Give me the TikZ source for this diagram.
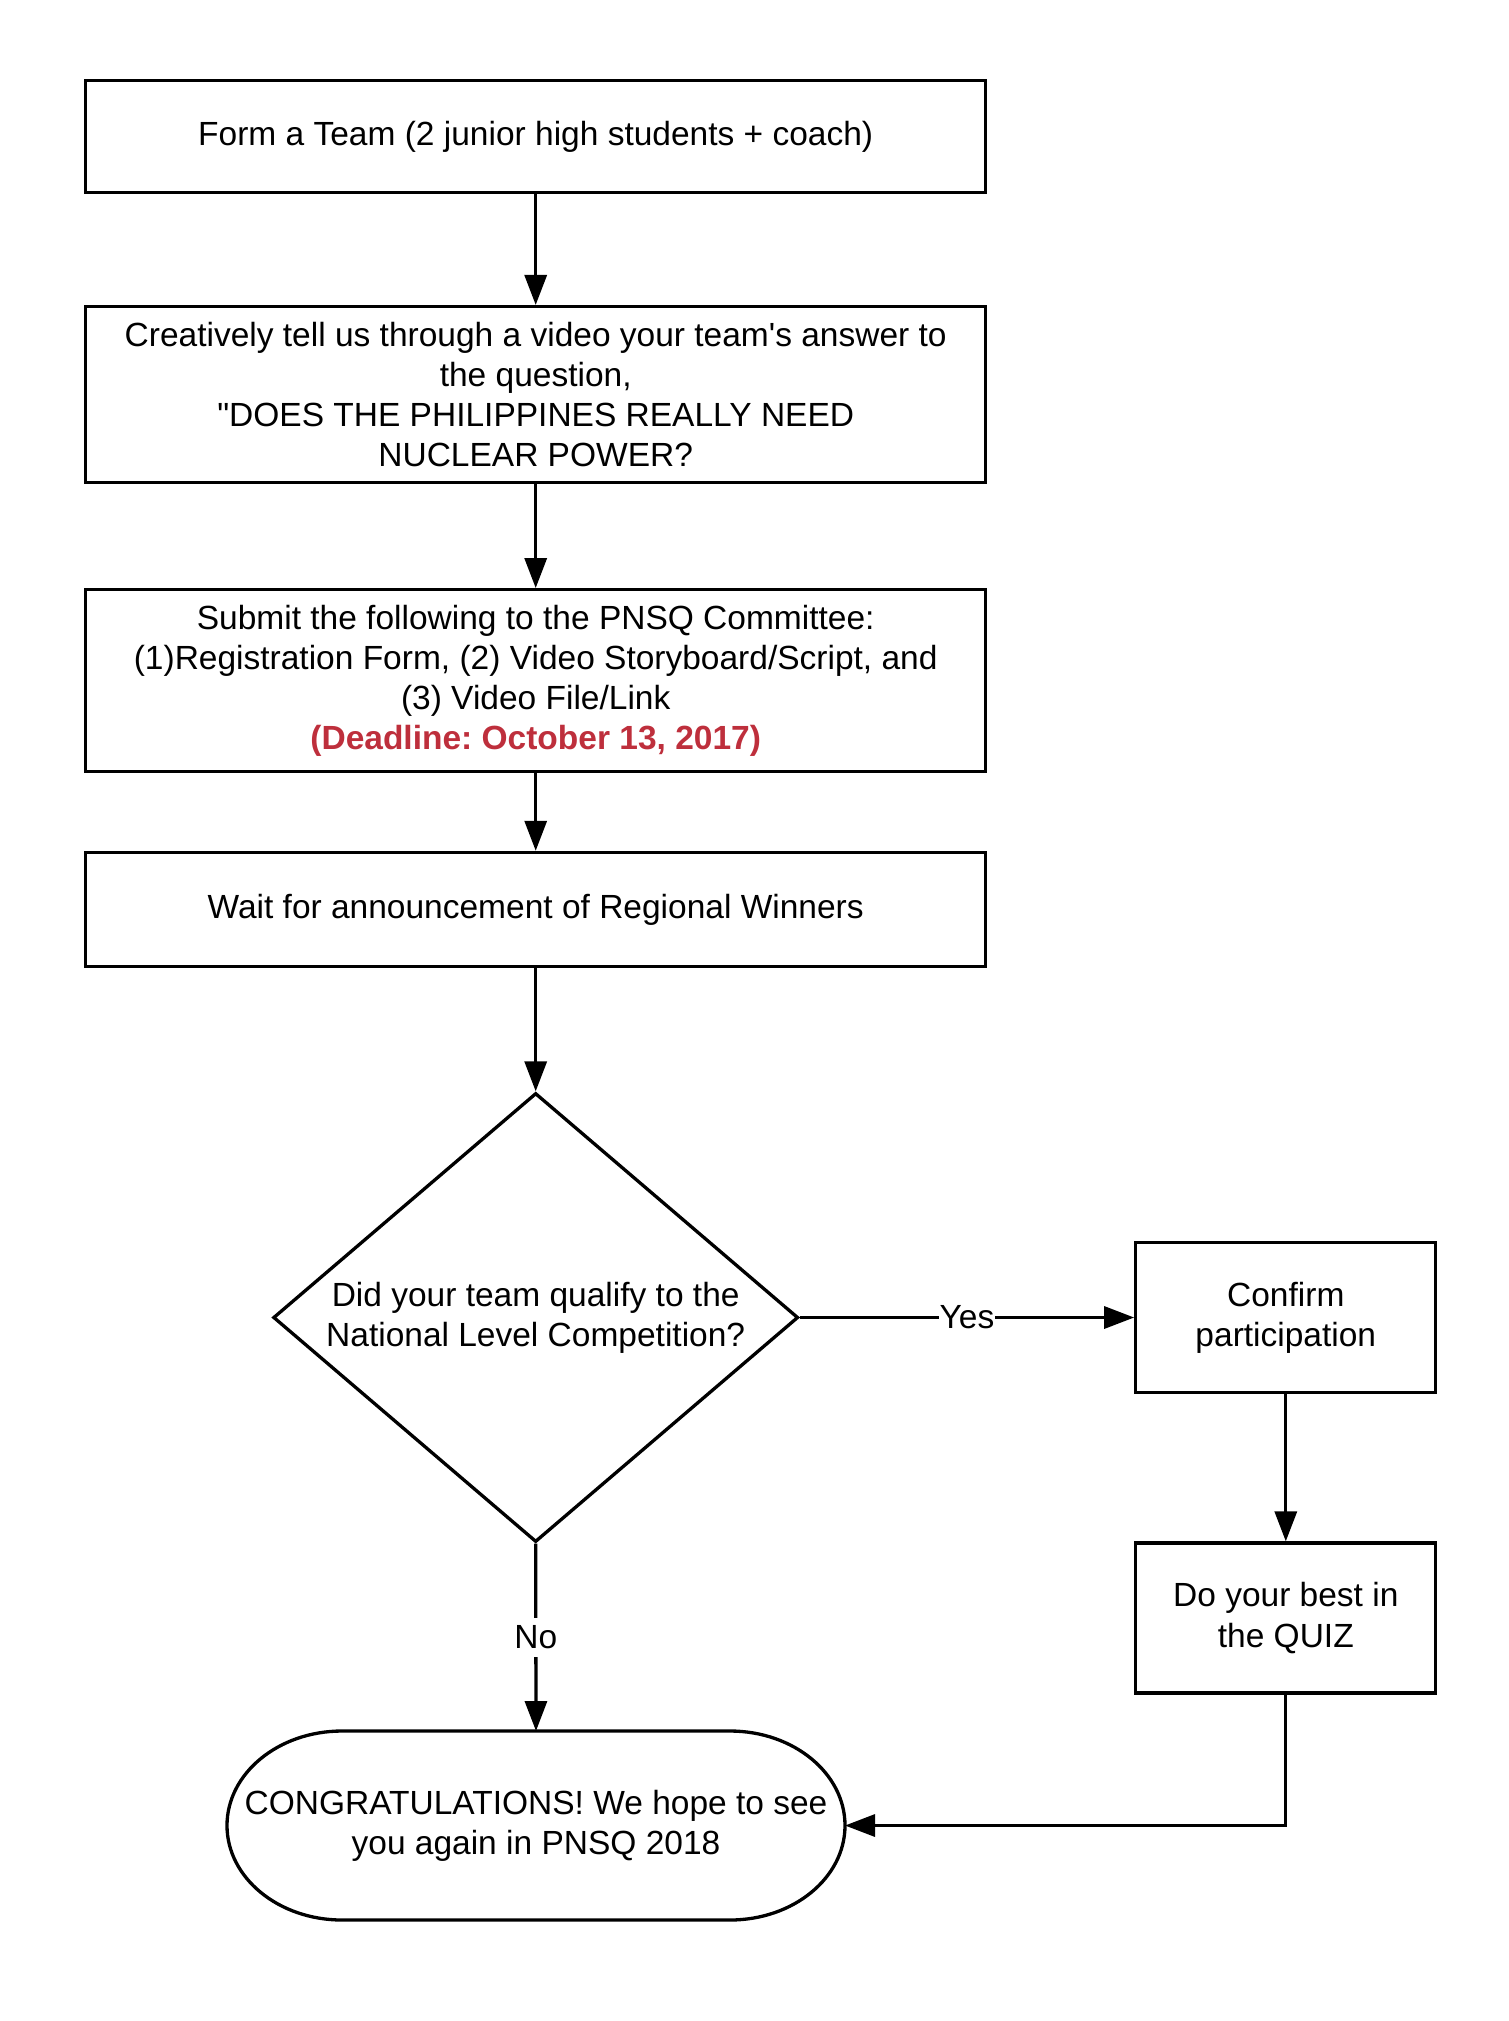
\documentclass[tikz,border=0pt]{standalone}
\usepackage{fontspec}
\setmainfont{Liberation Sans}[Ligatures=TeXOff]
\usetikzlibrary{arrows.meta,shapes.geometric}
\definecolor{deadline}{RGB}{190,47,60}

\begin{document}
\frenchspacing
\begin{tikzpicture}[
    x = 1pt,
    y = 1pt,
    line width = 3.3pt,
    >={Triangle[length=30pt,width=22pt]},
    font = \fontsize{33.5}{40.2}\selectfont,
    stepbox/.style = {
      draw,
      rectangle,
      align = center,
      inner sep = 0pt
    },
    decision/.style = {
      draw,
      diamond,
      align = center,
      inner sep = 0pt,
      aspect = 1.17,
      minimum width = 525pt,
      minimum height = 449pt
    },
    tag/.style = {
      fill = white,
      inner xsep = 1pt,
      inner ysep = 8pt
    }
  ]
  \useasboundingbox (0,0) rectangle (1508,-2021);

  \node[stepbox, minimum width=900pt, minimum height=112pt] (team) at (535.7,-136.7)
    {Form a Team (2 junior high students + coach)};
  \node[stepbox, minimum width=900pt, minimum height=176pt] (video) at (535.7,-394.6)
    {Creatively tell us through a video your team's answer to\\the question,\\"DOES THE PHILIPPINES REALLY NEED\\NUCLEAR POWER?};
  \node[stepbox, minimum width=900pt, minimum height=182pt] (submit) at (535.7,-680.7)
    {Submit the following to the PNSQ Committee:\\(1)Registration Form, (2) Video Storyboard/Script, and\\(3) Video File/Link\\{\color{deadline}\bfseries (Deadline: October 13, 2017)}};
  \node[stepbox, minimum width=900pt, minimum height=114pt] (wait) at (535.7,-909.4)
    {Wait for announcement of Regional Winners};

  \node[decision] (qualify) at (535.7,-1317.5)
    {Did your team qualify to the\\National Level Competition?};

  \node[stepbox, minimum width=300pt, minimum height=150pt] (confirm) at (1285.8,-1317.5)
    {Confirm\\participation};
  \node[stepbox, minimum width=300pt, minimum height=150pt] (quiz) at (1285.8,-1618)
    {Do your best in\\the QUIZ};

  \node[align=center, inner sep=0pt, minimum width=614.7pt, minimum height=185.7pt] (congrats) at (536,-1825.5)
    {CONGRATULATIONS! We hope to see\\you again in PNSQ 2018};
  \draw ([xshift=115pt]congrats.north west) -- ([xshift=-115pt]congrats.north east)
    arc[start angle=90, end angle=-90, x radius=115pt, y radius=94.5pt]
    -- ([xshift=115pt]congrats.south west)
    arc[start angle=270, end angle=90, x radius=115pt, y radius=94.5pt] -- cycle;

  \draw[->] (team) -- (video);
  \draw[->] (video) -- (submit);
  \draw[->] (submit) -- (wait);
  \draw[->] (wait) -- (qualify);
  \draw[->] (qualify.east) -- node[tag] {Yes} (confirm.west);
  \draw[->] (qualify.south) -- node[tag] {No} (congrats.north);
  \draw[->] (confirm) -- (quiz);
  \draw[->] (quiz.south) |- (congrats.east);

\end{tikzpicture}
\end{document}
